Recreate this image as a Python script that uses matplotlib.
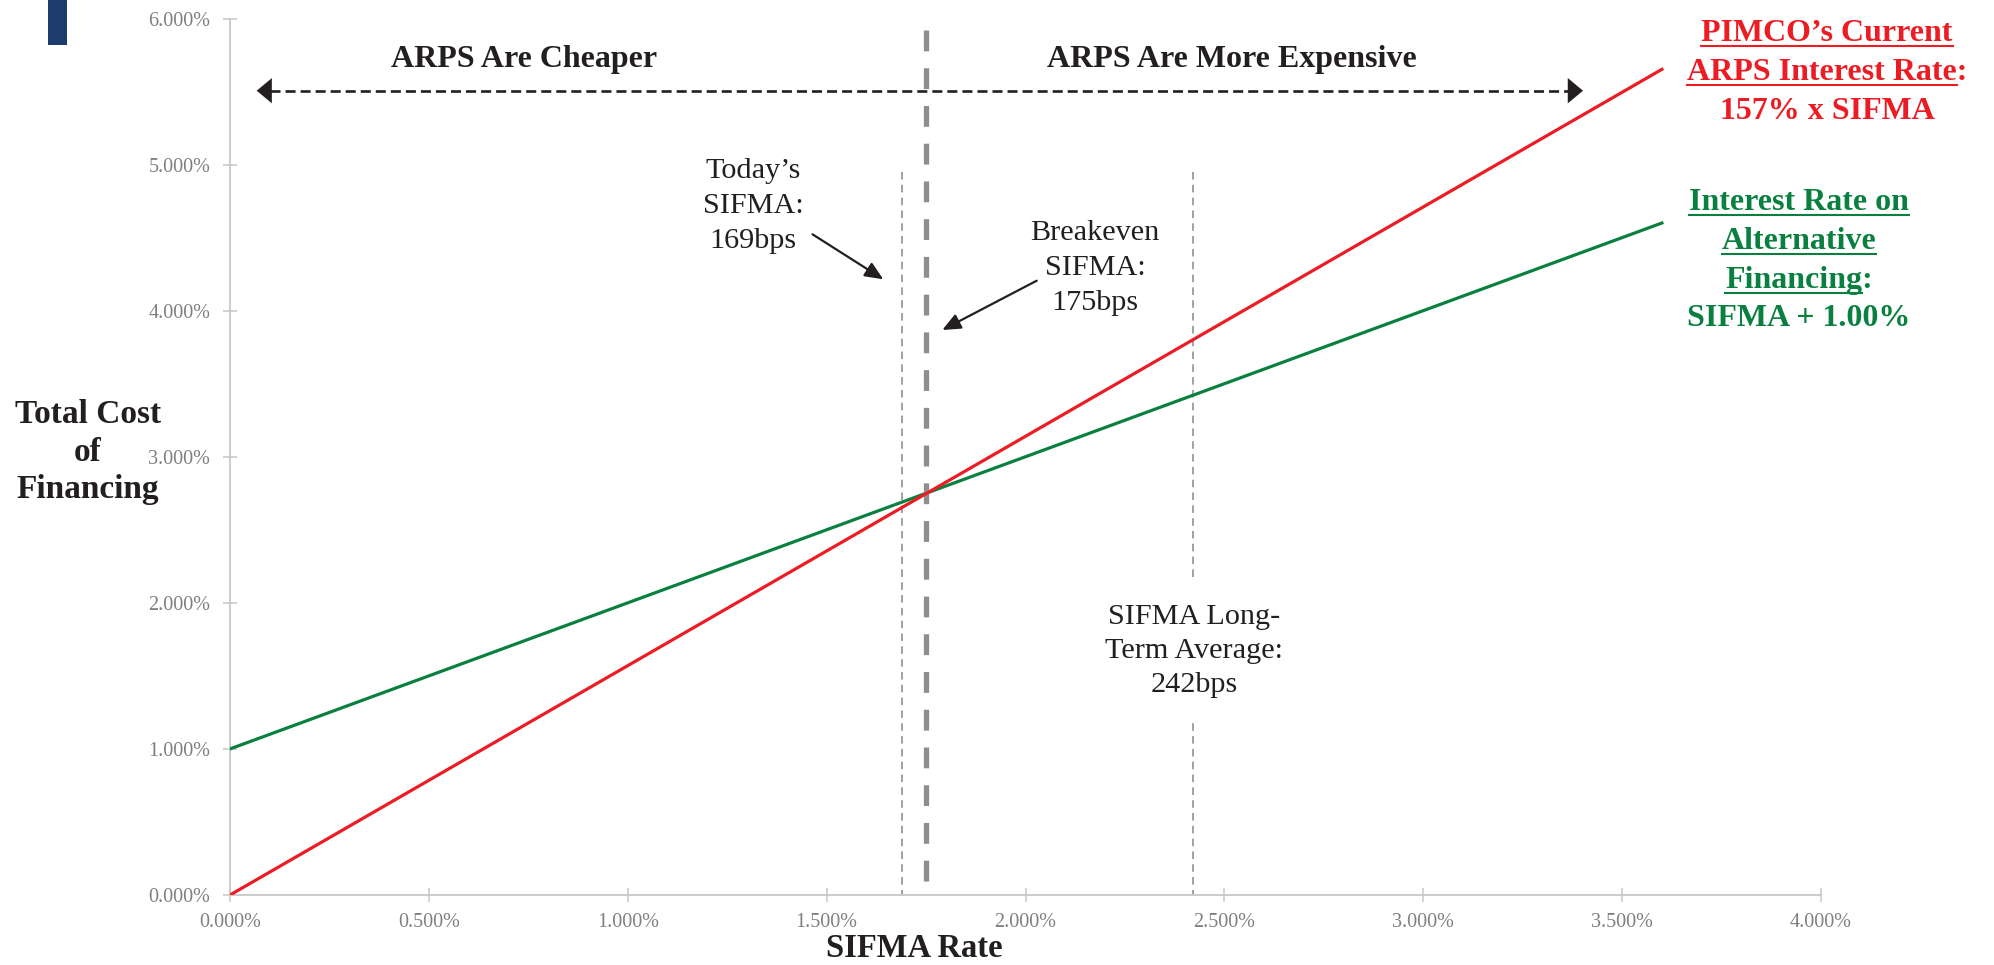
import matplotlib
matplotlib.use("Agg")
import matplotlib.pyplot as plt
from matplotlib.ticker import FuncFormatter
from matplotlib.patches import Rectangle
from matplotlib.lines import Line2D
from matplotlib.transforms import Affine2D

# ---- data (percent units) ----
sifma_rate = [0.0, 3.6]            # SIFMA rate range drawn
arps_cost = [0.0, 5.652]           # 157% x SIFMA
alt_cost = [1.0, 4.6]              # SIFMA + 1.00%
todays_sifma = 1.69
breakeven_sifma = 1.75
longterm_sifma = 2.42
x_ticks = [0.0, 0.5, 1.0, 1.5, 2.0, 2.5, 3.0, 3.5, 4.0]
y_ticks = [0.0, 1.0, 2.0, 3.0, 4.0, 5.0, 6.0]

RED = "#ec1c24"
GREEN = "#0a8040"
INK = "#231f20"
AXIS_GRAY = "#c8c8c8"
TICK_TEXT = "#7f7f7f"

W, H = 1994, 965
plt.rcParams["font.family"] = ["Liberation Serif", "DejaVu Serif"]
fig = plt.figure(figsize=(W / 100, H / 100), dpi=100)

# pixel coordinates measured from the top-left corner of the figure
PX = Affine2D().scale(1.0 / W, -1.0 / H).translate(0, 1) + fig.transFigure

ax = fig.add_axes([230 / W, 1 - 895 / H, (1821 - 230) / W, (895 - 18.5) / H])
ax.set_xlim(0, 4)
ax.set_ylim(0, 6)
ax.set_xticks(x_ticks)
ax.set_yticks(y_ticks)
pct = FuncFormatter(lambda v, _: f"{v:.3f}%")
ax.xaxis.set_major_formatter(pct)
ax.yaxis.set_major_formatter(pct)
for side in ("top", "right"):
    ax.spines[side].set_visible(False)
for side in ("left", "bottom"):
    ax.spines[side].set_color(AXIS_GRAY)
    ax.spines[side].set_linewidth(1.3)
ax.tick_params(direction="inout", length=9.4, width=1.1, color=AXIS_GRAY,
               labelcolor=TICK_TEXT, labelsize=14.5)
ax.tick_params(axis="y", pad=9.5)
ax.tick_params(axis="x", pad=8)

# reference SIFMA levels
ax.plot([todays_sifma, todays_sifma], [4.95, 0], color="#9a9a9a", lw=1.3,
        dashes=(4.2, 2.9), zorder=2)
ax.plot([longterm_sifma, longterm_sifma], [4.95, 0], color="#9a9a9a", lw=1.3,
        dashes=(4.2, 2.9), zorder=2)

# cost lines
ax.plot(sifma_rate, alt_cost, color=GREEN, lw=2.3, zorder=3)
ax.plot([breakeven_sifma, breakeven_sifma], [5.92, 0], color="#8e8e8e", lw=3.8,
        dashes=(3.95, 3.2), zorder=4)
ax.plot(sifma_rate, arps_cost, color=RED, lw=2.3, zorder=5)

# cheaper / more expensive double arrow
y_arr = 90.7
fig.add_artist(Line2D([270, 1570], [y_arr, y_arr], transform=PX, color=INK,
                      lw=1.9, dashes=(3.8, 1.9)))
for tip, tail in ((256.7, 275), (1583, 1565)):
    ax.annotate("", xy=(tip, y_arr), xytext=(tail, y_arr), xycoords=PX, textcoords=PX,
                arrowprops=dict(arrowstyle="-|>,head_length=10.8,head_width=9",
                                mutation_scale=1, color=INK, lw=0.1,
                                shrinkA=0, shrinkB=0))

bold_ink = dict(color=INK, fontweight="bold", fontsize=23)
fig.text(524.5, 67, "ARPS Are Cheaper", transform=PX, ha="center", va="baseline", **bold_ink)
fig.text(1232, 67, "ARPS Are More Expensive", transform=PX, ha="center", va="baseline", **bold_ink)

# annotations
note = dict(color=INK, fontsize=21.8, ha="center", va="baseline", transform=PX, zorder=4)
for yb, s in zip((177.7, 213.3, 248.3), ("Today\u2019s", "SIFMA:", "169bps")):
    fig.text(753, yb, s, **note)
for yb, s in zip((240, 275, 310), ("Breakeven", "SIFMA:", "175bps")):
    fig.text(1095, yb, s, **note)
# white panel behind the long-term label interrupts the dashed level line
fig.add_artist(Rectangle((1098, 579), 192, 139, transform=PX, facecolor="white",
                         edgecolor="none", zorder=2))
for yb, s in zip((624, 658, 692), ("SIFMA Long-", "Term Average:", "242bps")):
    fig.text(1194, yb, s, **note)

arrow_kw = dict(arrowstyle="-|>,head_length=11,head_width=4.8", mutation_scale=1,
                color=INK, lw=1.6, shrinkA=0, shrinkB=0)
ax.annotate("", xy=(883.3, 279.3), xytext=(812.5, 234.3), xycoords=PX, textcoords=PX,
            arrowprops=arrow_kw)
ax.annotate("", xy=(942.3, 330), xytext=(1036.7, 280.7), xycoords=PX, textcoords=PX,
            arrowprops=arrow_kw)

# axis titles
ylab = dict(color=INK, fontweight="bold", fontsize=24, ha="center", va="baseline", transform=PX)
for yb, s in zip((423, 461, 498), ("Total Cost", "of", "Financing")):
    fig.text(88, yb, s, **ylab)
fig.text(914, 957, "SIFMA Rate", color=INK, fontweight="bold", fontsize=23.5,
         ha="center", va="baseline", transform=PX)

# series labels, partly underlined
series_lines = []
lab = dict(fontweight="bold", fontsize=23, ha="center", va="baseline", transform=PX)
for yb, s, ul in zip((41, 80, 119),
                     ("PIMCO\u2019s Current", "ARPS Interest Rate:", "157% x SIFMA"),
                     ("PIMCO\u2019s Current", "ARPS Interest Rate", None)):
    t = fig.text(1827, yb, s, color=RED, **lab)
    series_lines.append((t, yb, ul, RED))
for yb, s, ul in zip((210, 249, 288, 326),
                     ("Interest Rate on", "Alternative", "Financing:", "SIFMA + 1.00%"),
                     ("Interest Rate on", "Alternative", "Financing", None)):
    t = fig.text(1799, yb, s, color=GREEN, **lab)
    series_lines.append((t, yb, ul, GREEN))

fig.canvas.draw()
renderer = fig.canvas.get_renderer()
for t, yb, ul, col in series_lines:
    if ul is None:
        continue
    bb = t.get_window_extent(renderer)
    probe = fig.text(0, 0, ul, fontweight="bold", fontsize=23)
    w = probe.get_window_extent(renderer).width
    probe.remove()
    x0 = bb.x0
    fig.add_artist(Line2D([x0, x0 + w], [H - (yb + 5), H - (yb + 5)],
                          transform=None, color=col, lw=1.5))

# corner marker
fig.add_artist(Rectangle((48, 44.7), 19, -44.7, transform=PX, color="#1d3c6e", lw=0))

fig.savefig("out.png", dpi=100)
